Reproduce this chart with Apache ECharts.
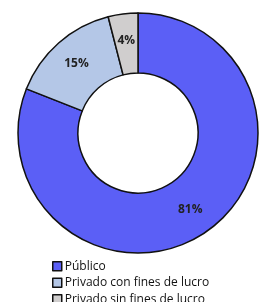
<!DOCTYPE html>
<html><head><meta charset="utf-8">
<script src="https://cdn.jsdelivr.net/npm/echarts@6/dist/echarts.min.js"></script>
<style>html,body{margin:0;padding:0;background:#fff}#c{width:262px;height:302px}</style>
</head><body><div id="c"></div>
<script>
const categories = ["Público", "Privado con fines de lucro", "Privado sin fines de lucro"];
const values = [81, 15, 4];
const colors = ["#5b5ff6", "#b4c7e7", "#d0cece"];
const chart = echarts.init(document.getElementById('c'), null, {renderer: 'canvas'});
chart.setOption({
  animation: false,
  legend: {
    orient: 'vertical', left: 52, top: 258, height: 80,
    padding: 0,
    itemWidth: 9, itemHeight: 9, itemGap: 0,
    icon: 'rect',
    itemStyle: {borderColor: '#111', borderWidth: 1.5},
    textStyle: {fontFamily: 'Open Sans', fontSize: 12, lineHeight: 16.5, color: '#111', padding: [0,0,0,-2]},
    data: categories
  },
  series: [{
    type: 'pie',
    center: [138, 133],
    radius: [60, 120],
    startAngle: 90,
    clockwise: true,
    itemStyle: {borderColor: '#111', borderWidth: 1.5},
    label: {
      position: 'inside', formatter: '{c}%',
      fontFamily: 'Open Sans', fontWeight: 'bold', fontSize: 12, color: '#222'
    },
    labelLine: {show: false},
    emphasis: {disabled: true},
    data: categories.map((n, i) => ({name: n, value: values[i], itemStyle: {color: colors[i]}}))
  }]
});
</script></body></html>
